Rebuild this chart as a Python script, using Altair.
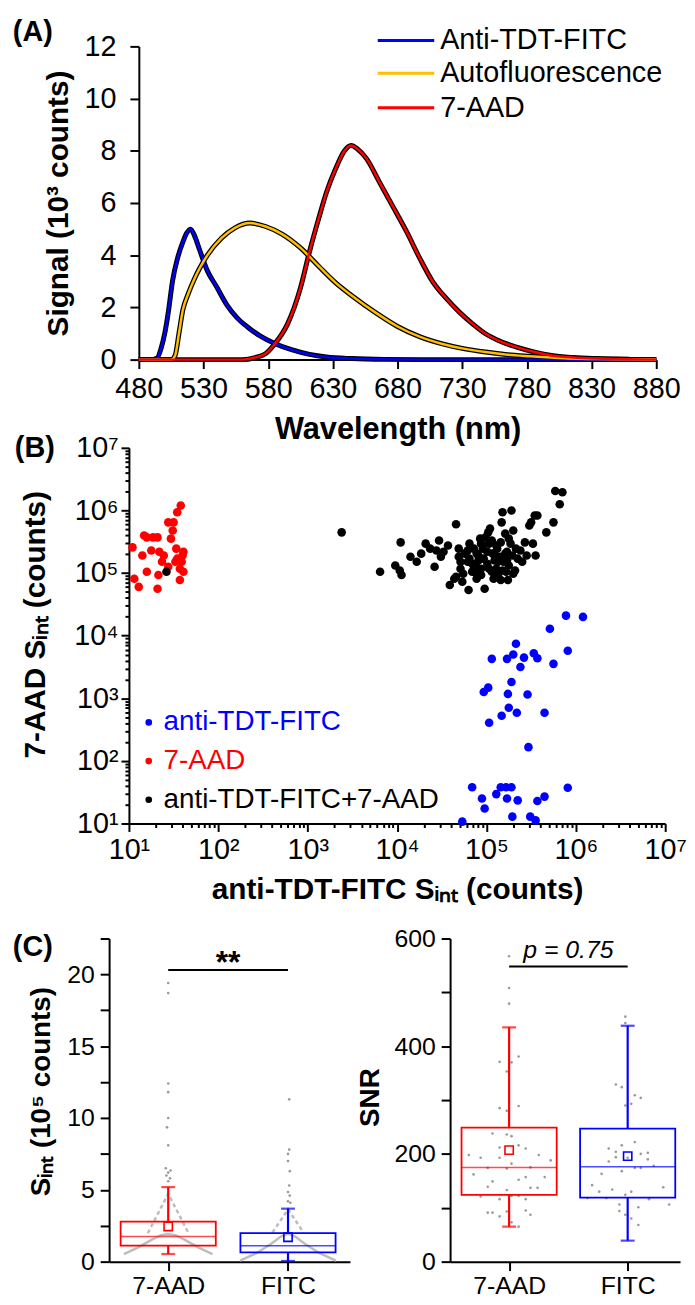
import altair as alt
import pandas as pd

FONT = "Liberation Sans"
BLUE, GOLD, RED = "#0000FF", "#FFBF00", "#FF0000"

# ---------------- (A) emission spectra (10^3 counts) ----------------
fitc_wl = [480, 490, 494, 497, 500, 503, 506, 510, 514, 517, 520, 523, 527, 533, 540, 548, 556, 564,
           574, 585, 598, 612, 625, 645, 670, 700, 750, 800, 880]
fitc_sig = [0, 0, 0.05, 0.4, 1.0, 1.9, 3.0, 3.9, 4.5, 4.85, 5.0, 4.75, 4.2, 3.4, 2.8, 2.1, 1.6, 1.25,
            0.9, 0.62, 0.38, 0.2, 0.1, 0.04, 0.01, 0, 0, 0, 0]
auto_wl = [480, 505, 508, 511, 514, 518, 523, 527, 533, 544, 554, 566, 578, 591, 605, 619, 632, 646,
           663, 680, 697, 714, 731, 748, 765, 782, 799, 815, 833, 860, 880]
auto_sig = [0, 0, 0.15, 1.0, 1.9, 2.5, 3.1, 3.5, 4.0, 4.66, 5.04, 5.23, 5.1, 4.8, 4.28, 3.58, 2.95, 2.4,
            1.8, 1.27, 0.88, 0.61, 0.42, 0.29, 0.19, 0.13, 0.08, 0.04, 0.02, 0.01, 0]
aad_wl = [480, 560, 570, 578, 585, 595, 605, 612, 619, 625, 632, 639, 644, 649, 656, 666, 676, 687,
          697, 707, 717, 728, 738, 748, 758, 772, 786, 799, 816, 833, 860, 880]
aad_sig = [0, 0, 0.08, 0.23, 0.6, 1.37, 2.76, 4.15, 5.4, 6.4, 7.3, 8.0, 8.2, 8.07, 7.7, 6.8, 5.9, 4.9,
           3.9, 3.0, 2.38, 1.81, 1.37, 0.99, 0.73, 0.48, 0.29, 0.16, 0.08, 0.04, 0.01, 0]
spec_names = ["Anti-TDT-FITC", "Autofluorescence", "7-AAD"]
spec_colors = [BLUE, GOLD, RED]
wl_ticks = [480, 530, 580, 630, 680, 730, 780, 830, 880]
sig_ticks = [0, 2, 4, 6, 8, 10, 12]

# ---------------- (B) single-cell integrated signals (log10 counts) ----------------
aad_x_log = [1.04, 1.06, 1.11, 1.17, 1.20, 1.25, 1.27, 1.32, 1.33, 1.34, 1.37, 1.39, 1.44, 1.47, 1.49,
             1.50, 1.52, 1.53, 1.54, 1.54, 1.57, 1.57, 1.58, 1.59, 1.60, 1.61, 1.44, 1.32, 1.20, 1.15, 1.61]
aad_y_log = [5.41, 4.91, 4.78, 5.60, 5.02, 5.36, 5.57, 4.75, 4.97, 5.34, 5.18, 5.28, 5.10, 5.55, 5.68,
             5.81, 5.18, 5.39, 5.23, 5.97, 4.89, 5.07, 6.08, 5.18, 5.28, 5.02, 5.81, 5.57, 5.57, 5.28, 5.34]
both_x_log = [3.38, 3.81, 3.98, 4.03, 4.05, 4.04, 4.15, 4.22, 4.27, 4.32,
              4.37, 4.42, 4.47, 4.52, 4.57, 4.59, 4.66, 4.64, 4.69, 4.71,
              4.73, 4.76, 4.79, 4.80, 4.81, 4.84, 4.86, 4.88, 4.89, 4.91,
              4.93, 4.94, 4.94, 4.96, 4.97, 4.98, 4.99, 5.01, 5.02, 5.03,
              5.04, 5.06, 5.07, 5.08, 5.09, 5.11, 5.12, 5.13, 5.15, 5.16,
              5.17, 5.18, 5.19, 5.21, 5.22, 5.23, 5.24, 5.25, 5.27, 5.28,
              5.29, 5.30, 5.32, 5.33, 5.35, 5.38, 5.40, 5.43, 5.45, 5.48,
              5.50, 5.52, 5.54, 5.55, 5.57, 5.67, 5.75, 5.77, 5.82, 5.85,
              4.91, 4.86, 4.81, 4.74, 4.69, 5.03, 5.08, 5.13, 5.18, 5.23,
              5.11, 5.01, 5.06, 4.94, 4.89, 4.79, 4.84, 4.71, 4.66, 4.49,
              4.44, 5.25, 5.30, 5.11, 5.16, 4.89, 5.21, 1.42]
both_y_log = [5.65, 5.02, 5.12, 5.04, 4.97, 5.49, 5.26, 5.18, 5.31, 5.47,
              5.39, 5.10, 5.52, 5.34, 5.44, 4.81, 5.78, 4.91, 5.26, 5.07,
              4.86, 5.31, 5.18, 4.73, 5.47, 5.02, 5.39, 5.12, 4.91, 5.28,
              5.55, 5.07, 4.97, 5.39, 5.23, 4.75, 5.57, 5.15, 5.65, 5.47,
              5.71, 5.02, 5.31, 4.91, 5.20, 5.07, 5.39, 4.97, 5.26, 5.49,
              5.81, 5.97, 5.18, 5.63, 5.02, 5.34, 4.89, 5.12, 5.47, 6.00,
              5.28, 5.68, 5.04, 5.39, 5.23, 5.36, 5.18, 5.49, 5.28, 5.76,
              5.81, 5.47, 5.92, 5.28, 5.92, 5.65, 5.81, 6.31, 6.10, 6.29,
              5.20, 5.07, 5.23, 4.99, 5.39, 5.07, 5.31, 5.18, 5.04, 5.20,
              5.44, 5.34, 5.52, 5.47, 5.31, 5.36, 5.15, 5.18, 4.94, 5.26,
              5.36, 5.55, 4.99, 4.94, 4.89, 4.99, 5.31, 5.02]
fitc_x_log = [4.73, 4.84, 4.95, 4.98, 5.11, 5.16, 5.22, 5.28, 5.23, 5.29,
              5.35, 5.49, 5.55, 5.57, 5.65, 5.91, 4.97, 5.02, 5.03, 5.06,
              5.17, 5.23, 5.24, 5.25, 5.28, 5.30, 5.33, 5.34, 5.38, 5.42,
              5.46, 5.47, 5.53, 5.57, 5.65, 5.71, 5.75, 5.89, 5.91, 6.08]
fitc_y_log = [1.03, 1.58, 1.40, 1.24, 1.47, 1.58, 1.58, 1.58, 1.40, 1.11,
              1.37, 1.11, 1.05, 1.36, 1.43, 1.57, 3.10, 3.17, 2.61, 3.63,
              2.72, 3.63, 3.07, 2.85, 3.26, 3.70, 3.87, 2.77, 3.50, 3.65,
              3.06, 2.22, 3.72, 3.64, 2.77, 4.11, 3.55, 4.32, 3.76, 4.30]
scatter_names = ["anti-TDT-FITC", "7-AAD", "anti-TDT-FITC+7-AAD"]
scatter_colors = [BLUE, RED, "black"]
decades = [10, 100, 1000, 10000, 100000, 1000000, 10000000]
decade_labels = ["10¹", "10²", "10³", "10⁴", "10⁵", "10⁶", "10⁷"]

# ---------------- (C) box charts ----------------
groups = ["7-AAD", "FITC"]
group_colors = [RED, BLUE]
# S_int (10^5 counts)
sint_q1 = [1.11, 0.65]
sint_q3 = [2.79, 1.99]
sint_med = [1.75, 1.11]
sint_mean = [2.45, 1.70]
sint_lo = [0.53, 0.05]
sint_hi = [5.19, 3.69]
sint_pts_aad = [19.4, 18.7, 12.4, 11.8, 10.0, 9.35, 8.1, 6.5, 6.35, 6.2, 6.0, 5.8, 5.6]
sint_jit_aad = [0, 0, 0, 0, 0, -0.01, 0, -0.02, 0.02, 0, -0.015, 0.015, 0]
sint_pts_fitc = [11.3, 7.8, 7.5, 7.0, 6.3, 5.3, 4.85, 4.6, 4.2, 4.1]
sint_jit_fitc = [0.01, 0.01, 0.0, 0.0, 0.015, 0.01, 0.0, 0.015, 0.0, 0.02]
# outline of the binned data-point clouds
tent_aad_hi_dx = [-0.17, 0, 0.17]
tent_aad_hi_v = [1.98, 4.73, 1.98]
tent_aad_lo_dx = [-0.37, -0.25, -0.14, -0.06, 0, 0.06, 0.14, 0.25, 0.37]
tent_aad_lo_v = [0.53, 0.99, 1.52, 1.84, 1.91, 1.84, 1.52, 0.99, 0.53]
tent_fitc_hi_dx = [-0.13, 0, 0.13]
tent_fitc_hi_v = [2.03, 3.64, 2.03]
tent_fitc_lo_dx = [-0.40, -0.26, -0.14, -0.06, 0, 0.06, 0.14, 0.26, 0.40]
tent_fitc_lo_v = [0.07, 0.6, 1.25, 1.75, 1.95, 1.75, 1.25, 0.6, 0.07]
# SNR
snr_q1 = [124, 119]
snr_q3 = [249, 247]
snr_med = [175, 176]
snr_mean = [207, 196]
snr_lo = [65, 39]
snr_hi = [435, 438]
snr_aad_vals = [371, 370, 381, 353, 285, 280, 289, 567, 508, 479, 238, 236, 233, 212, 216, 210, 198, 198,
                193, 193, 182, 188, 174, 173, 175, 162, 149, 152, 157, 157, 139, 137, 137, 133, 121, 122,
                122, 116, 116, 91, 91, 84, 93, 95, 87, 73, 65]
snr_aad_jit = [-0.08, 0.02, 0.08, -0.02, -0.08, -0.02, 0.08, 0, 0, 0, -0.14, -0.02, 0.02, -0.08, 0.08, 0.14,
               0.25, -0.34, -0.24, -0.08, 0.02, 0.35, -0.18, -0.02, 0.18, -0.30, -0.14, 0.08, 0.14, 0.30,
               -0.18, 0.18, 0.24, -0.02, -0.24, 0.02, 0.08, -0.08, 0.14, -0.18, -0.14, -0.08, -0.02, 0.14,
               0.18, 0.02, 0.08]
snr_fitc_vals = [455, 443, 329, 324, 309, 304, 290, 293, 222, 216, 210, 204, 200, 202, 194, 190, 186, 193,
                 174, 174, 178, 168, 163, 142, 130, 134, 130, 138, 118, 118, 124, 116, 106, 106, 101, 94,
                 87, 80, 68]
snr_fitc_jit = [-0.02, -0.02, -0.10, -0.05, 0.06, 0.11, -0.02, 0.03, 0.06, -0.05, -0.16, -0.10, 0.11, 0.17,
                -0.10, 0.17, -0.16, 0.0, 0.06, 0.11, 0.22, -0.05, -0.22, -0.30, -0.24, -0.13, 0.03, 0.30,
                -0.34, -0.18, -0.02, 0.18, 0.35, -0.07, 0.09, -0.07, -0.02, 0.03, 0.09]


def ax(**kw):
    base = dict(domainColor="black", domainWidth=2, tickColor="black", tickWidth=2,
                labelColor="black", labelFont=FONT, titleFont=FONT, titleColor="black",
                titleFontWeight="bold", grid=False, labelFlush=False, labelOverlap=False)
    base.update(kw)
    return alt.Axis(**base)


def label_chart(text, x, y, size=29):
    return alt.Chart(pd.DataFrame({"t": [text]})).mark_text(
        font=FONT, fontSize=size, fontWeight="bold", align="center", baseline="middle", color="black"
    ).encode(x=alt.value(x), y=alt.value(y), text="t:N")


def anchor(x, y):
    # invisible mark fixing the extent of the layout
    return alt.Chart(pd.DataFrame({"z": [0]})).mark_point(opacity=0, size=1).encode(
        x=alt.value(x), y=alt.value(y))


# Page geometry (plot areas): column origin at x=109
# ================= Panel A =================
A_OFF, A_W, A_H = 30, 522, 316
recA = []
for n, wl, sg in zip(spec_names, [fitc_wl, auto_wl, aad_wl], [fitc_sig, auto_sig, aad_sig]):
    recA += [{"series": n, "wl": w, "sig": s} for w, s in zip(wl, sg)]
dfA = pd.DataFrame(recA)

xA = alt.X("wl:Q", scale=alt.Scale(domain=[480, 880], nice=False, zero=False, range=[A_OFF, A_OFF + A_W]),
           axis=ax(values=wl_ticks, tickSize=9, labelFontSize=29, labelPadding=6,
                   title="Wavelength (nm)", titleFontSize=31, titleY=71, titleBaseline="middle"))
yA = alt.Y("sig:Q", scale=alt.Scale(domain=[0, 12], nice=False),
           axis=ax(values=sig_ticks, tickSize=9, labelFontSize=29, labelPadding=14, offset=-A_OFF,
                   title="Signal (10³ counts)", titleFontSize=30, titleX=-81, titleY=A_H / 2,
                   titleBaseline="middle"))

blackA = alt.Chart(dfA).mark_line(color="black", strokeWidth=5, interpolate="monotone").encode(
    x=xA, y=yA, detail="series:N")
colA = alt.Chart(dfA).mark_line(strokeWidth=2.5, interpolate="monotone").encode(
    x=xA, y=yA,
    color=alt.Color("series:N", scale=alt.Scale(domain=spec_names, range=spec_colors), legend=None))
legA = []
for i, (nm, cl) in enumerate(zip(spec_names, spec_colors)):
    d = pd.DataFrame({"t": [nm]})
    yy = [-6, 27, 62][i]
    legA.append(alt.Chart(d).mark_rule(color=cl, strokeWidth=3).encode(
        x=alt.value(A_OFF + 241), x2=alt.value(A_OFF + 298), y=alt.value(yy)))
    legA.append(alt.Chart(d).mark_text(font=FONT, fontSize=29, color="black", align="left",
                                       baseline="middle").encode(
        x=alt.value(A_OFF + 304), y=alt.value(yy), text="t:N"))
chartA = alt.layer(blackA, colA, *legA, label_chart("(A)", -77, -14), anchor(-101, -32)).properties(
    width=A_OFF + A_W, height=A_H)

# ================= Panel B =================
B_OFF, B_W, B_H, B_EXTRA = 20, 541, 379, 27
recB = []
for name, cl, xs, ys in [("7-AAD", RED, aad_x_log, aad_y_log),
                         ("anti-TDT-FITC+7-AAD", "black", both_x_log, both_y_log),
                         ("anti-TDT-FITC", BLUE, fitc_x_log, fitc_y_log)]:
    recB += [{"grp": name, "col": cl, "x": 10 ** a, "y": 10 ** b} for a, b in zip(xs, ys)]
dfB = pd.DataFrame(recB)

log_ticks = [m * 10 ** k for k in range(1, 7) for m in range(1, 10)] + [10 ** 7]
major_test = "indexof([" + ",".join(str(d) for d in decades) + "], datum.value) >= 0"
lab_expr = "".join(f"datum.value == {d} ? '{l}' : " for d, l in zip(decades, decade_labels)) + "''"
tick_cond = {"condition": {"test": major_test, "value": 8}, "value": 4}

xB = alt.X("x:Q", scale=alt.Scale(type="log", domain=[10, 1e7], nice=False, range=[B_OFF, B_OFF + B_W]),
           axis=ax(values=log_ticks, tickSize=tick_cond, labelExpr=lab_expr, labelFontSize=29,
                   labelPadding=4, offset=-B_EXTRA, title="anti-TDT-FITC Sᵢₙₜ (counts)", titleFontSize=30,
                   titleY=67, titleBaseline="middle"))
yB = alt.Y("y:Q", scale=alt.Scale(type="log", domain=[10, 1e7], nice=False, range=[B_H, 0]),
           axis=ax(values=log_ticks, tickSize=tick_cond, labelExpr=lab_expr, labelFontSize=29,
                   labelPadding=3, offset=-B_OFF, title="7-AAD Sᵢₙₜ (counts)", titleFontSize=30,
                   titleX=-94, titleY=178, titleBaseline="middle"))
ptsB = alt.Chart(dfB).mark_circle(size=75, opacity=1).encode(
    x=xB, y=yB, color=alt.Color("col:N", scale=None))
legB = []
for i, (nm, cl) in enumerate(zip(scatter_names, scatter_colors)):
    d = pd.DataFrame({"t": [nm]})
    yy = 277 + i * 39
    legB.append(alt.Chart(d).mark_circle(size=45, color=cl, opacity=1).encode(
        x=alt.value(B_OFF + 20), y=alt.value(yy)))
    legB.append(alt.Chart(d).mark_text(font=FONT, fontSize=28, color=cl, align="left",
                                       baseline="middle").encode(
        x=alt.value(B_OFF + 35), y=alt.value(yy), text="t:N"))
chartB = alt.layer(ptsB, *legB, label_chart("(B)", -75, 0)).properties(
    width=B_OFF + B_W, height=B_H + B_EXTRA)


# ================= Panel C =================
def box_panel(W, H, xdom, ydom, yticks, lab_step, ytitle, tx, ty,
              q1, q3, med, mean, lo, hi, pts, tents, sig_y, sig_txt, sig_kw, sig_dy, extra=None):
    xaxis = ax(values=[1, 2], labelExpr="datum.value == 1 ? '7-AAD' : 'FITC'", tickSize=9,
               labelFontSize=25, labelPadding=3, title=None)
    yaxis = ax(values=yticks, tickSize=9, labelFontSize=25, labelPadding=6,
               labelExpr=f"datum.value % {lab_step} == 0 ? format(datum.value, 'd') : ''",
               title=ytitle, titleFontSize=28, titleX=tx, titleY=ty, titleBaseline="middle")
    xs = alt.Scale(domain=xdom, nice=False, zero=False)
    ys = alt.Scale(domain=ydom, nice=False, zero=False)

    def X(f):
        return alt.X(f"{f}:Q", scale=xs, axis=xaxis)

    def Y(f):
        return alt.Y(f"{f}:Q", scale=ys, axis=yaxis)

    dfb = pd.DataFrame({"x": [1, 2], "col": group_colors, "q1": q1, "q3": q3, "med": med,
                        "mean": mean, "lo": lo, "hi": hi})
    recp = []
    for p, (vals, jit) in zip([1, 2], pts):
        recp += [{"x": p + j, "v": v} for v, j in zip(vals, jit)]
    dfp = pd.DataFrame(recp)
    layers = []
    if tents:
        rect = []
        for k, (p, dxs, vs, dash) in enumerate(tents):
            rect += [{"x": p + dx, "v": v, "id": k, "dash": dash} for dx, v in zip(dxs, vs)]
        dft = pd.DataFrame(rect)
        layers.append(alt.Chart(dft).transform_filter("datum.dash == 1").mark_line(
            color="#bdbdbd", strokeWidth=2.5, strokeDash=[4, 3]).encode(x=X("x"), y=Y("v"), detail="id:N"))
        layers.append(alt.Chart(dft).transform_filter("datum.dash == 0").mark_line(
            color="#bdbdbd", strokeWidth=2.5).encode(x=X("x"), y=Y("v"), detail="id:N"))
    layers.append(alt.Chart(dfp).mark_circle(size=7, color="#9a9a9a", opacity=1).encode(
        x=X("x"), y=Y("v")))
    cc = alt.Color("col:N", scale=None)
    layers.append(alt.Chart(dfb).mark_bar(size=96, fillOpacity=0, strokeWidth=1.8).encode(
        x=X("x"), y=Y("q1"), y2="q3:Q", stroke=alt.Stroke("col:N", scale=None)))
    layers.append(alt.Chart(dfb).mark_rule(strokeWidth=2.2).encode(x=X("x"), y=Y("lo"), y2="q1:Q", color=cc))
    layers.append(alt.Chart(dfb).mark_rule(strokeWidth=2.2).encode(x=X("x"), y=Y("q3"), y2="hi:Q", color=cc))
    layers.append(alt.Chart(dfb).mark_tick(orient="horizontal", size=14, thickness=2.2).encode(
        x=X("x"), y=Y("lo"), color=cc))
    layers.append(alt.Chart(dfb).mark_tick(orient="horizontal", size=14, thickness=2.2).encode(
        x=X("x"), y=Y("hi"), color=cc))
    layers.append(alt.Chart(dfb).mark_tick(orient="horizontal", size=96, thickness=1.5).encode(
        x=X("x"), y=Y("med"), color=cc))
    layers.append(alt.Chart(dfb).mark_point(shape="square", size=70, filled=False, strokeWidth=1.6,
                                            opacity=1).encode(x=X("x"), y=Y("mean"), color=cc))
    dfs = pd.DataFrame({"x": [1], "x2": [2], "v": [sig_y], "xt": [1.5], "t": [sig_txt]})
    layers.append(alt.Chart(dfs).mark_rule(color="black", strokeWidth=2).encode(
        x=X("x"), x2="x2:Q", y=Y("v")))
    layers.append(alt.Chart(dfs).mark_text(font=FONT, color="black", align="center",
                                           baseline="alphabetic", dy=sig_dy, **sig_kw).encode(
        x=X("xt"), y=Y("v"), text="t:N"))
    if extra is not None:
        layers.append(extra)
    return alt.layer(*layers).properties(width=W, height=H)


C_H = 326
chartCl = box_panel(
    243, C_H, [0.548, 2.476], [0, 22.5], [i * 2.5 for i in range(10)], 5, "Sᵢₙₜ (10⁵ counts)", -68, 154,
    sint_q1, sint_q3, sint_med, sint_mean, sint_lo, sint_hi,
    [(sint_pts_aad, sint_jit_aad), (sint_pts_fitc, sint_jit_fitc)],
    [(1, tent_aad_hi_dx, tent_aad_hi_v, 1), (1, tent_aad_lo_dx, tent_aad_lo_v, 0),
     (2, tent_fitc_hi_dx, tent_fitc_hi_v, 1), (2, tent_fitc_lo_dx, tent_fitc_lo_v, 0)],
    20.3, "**", {"fontSize": 32, "fontWeight": "bold"}, 3,
    extra=label_chart("(C)", -77, 9))
chartCr = box_panel(
    232, C_H, [0.544, 2.40], [0, 600], list(range(0, 601, 100)), 200, "SNR", -80, 160,
    snr_q1, snr_q3, snr_med, snr_mean, snr_lo, snr_hi,
    [(snr_aad_vals, snr_aad_jit), (snr_fitc_vals, snr_fitc_jit)],
    None, 548, "p = 0.75", {"fontSize": 25, "fontStyle": "italic"}, -9)

rowC = alt.hconcat(chartCl, chartCr, spacing=101, bounds="flush")
chart = alt.vconcat(chartA, chartB, rowC, spacing=89, bounds="flush").properties(
    padding={"left": 0, "top": 0, "right": 0, "bottom": 0}
).configure_view(stroke=None)

chart.save("out.html", embed_options={"renderer": "svg", "actions": False})
